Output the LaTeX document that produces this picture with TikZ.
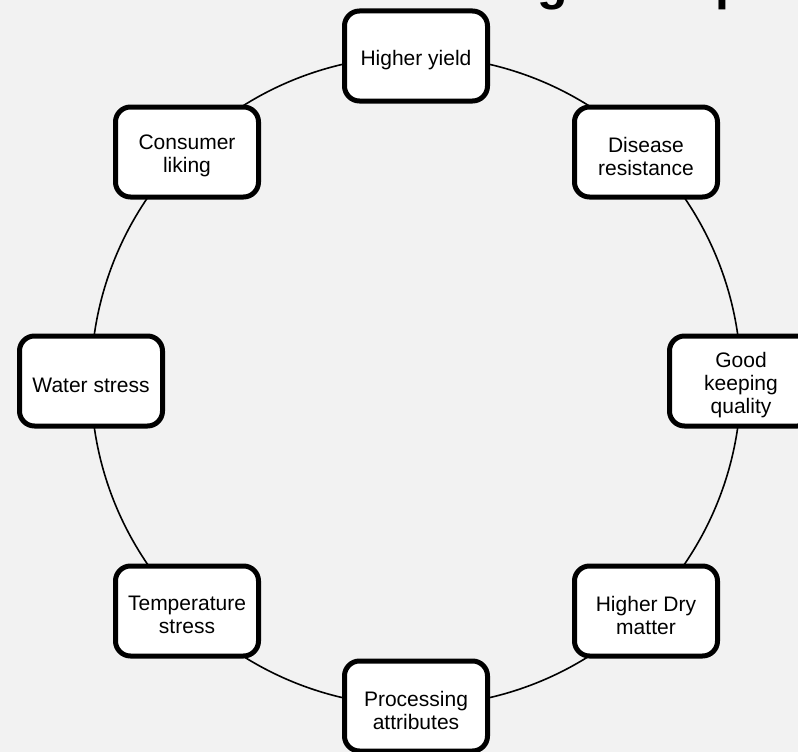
\documentclass[tikz,border=0pt]{standalone}
\usepackage{fontspec}
\setmainfont{Liberation Sans}
\definecolor{bg}{HTML}{F2F2F2}
\tikzset{
  trait/.style={draw=black, line width=5pt, fill=white, rounded corners=15pt,
    minimum width=143pt, minimum height=90pt, inner sep=0pt},
  traittext/.style={align=center, inner sep=0pt, yshift=-4pt,
    font=\fontsize{21}{23}\selectfont},
  ring/.style={draw=black, line width=1.6pt},
  titlefrag/.style={font=\fontsize{50}{60}\selectfont\bfseries, inner sep=0pt, anchor=base west}
}
\newcommand\traitbox[3]{%
  \node[trait] (#2) at (#1) {};
  \node[traittext] (#2-t) at (#2) {#3};}
\begin{document}
\begin{tikzpicture}[x=1pt,y=-1pt]
\useasboundingbox (0,0) rectangle (798,752);
\clip (0,0) rectangle (798,752);
\fill[bg] (0,0) rectangle (798,752);
\coordinate (c) at (416,381);
\draw[ring] (c) circle[radius=325];
\node[titlefrag] (t1) at (537,0) {g};
\node[titlefrag] (t2) at (715,0) {p};
\traitbox{416,56}{hy}{Higher yield}
\traitbox{646,152}{dr}{Disease\\resistance}
\traitbox{741,381}{gk}{Good\\keeping\\quality}
\traitbox{646,611}{dm}{Higher Dry\\matter}
\traitbox{416,706}{pa}{Processing\\attributes}
\traitbox{187,611}{ts}{Temperature\\stress}
\traitbox{91,381}{ws}{Water stress}
\traitbox{187,152}{cl}{Consumer\\liking}
\end{tikzpicture}
\end{document}
